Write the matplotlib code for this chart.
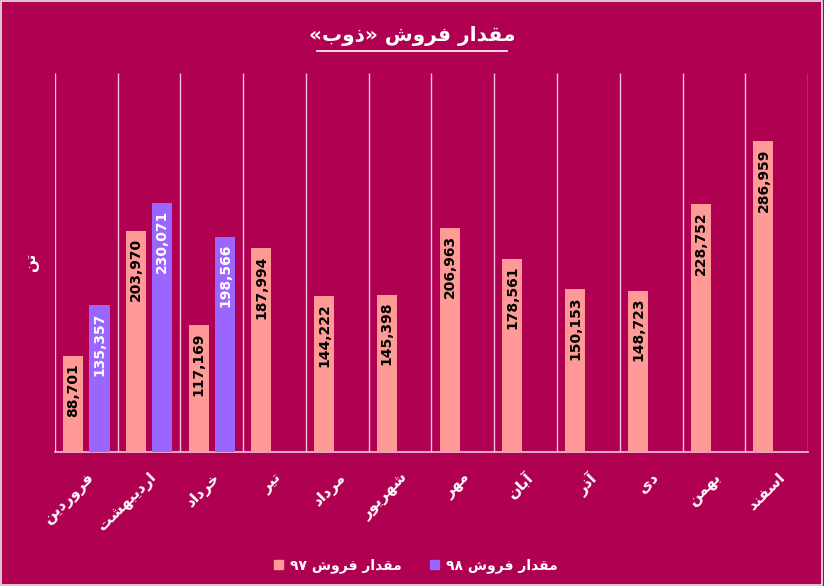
import numpy as np
import matplotlib
matplotlib.use("Agg")
import matplotlib.pyplot as plt
from matplotlib.patches import Patch, Rectangle

# data
months = ["فروردین", "اردیبهشت", "خرداد", "تیر", "مرداد", "شهریور",
          "مهر", "آبان", "آذر", "دی", "بهمن", "اسفند"]
sales_97 = [88701, 203970, 117169, 187994, 144222, 145398,
            206963, 178561, 150153, 148723, 228752, 286959]
sales_98 = [135357, 230071, 198566]
title = "مقدار فروش «ذوب»"
label_97 = "مقدار فروش ۹۷"
label_98 = "مقدار فروش ۹۸"
unit = "تن"

# tiny persian shaper: (isolated, final, initial, medial)
FORMS = {
    "ا": ("\uFE8D", "\uFE8E", None, None),
    "آ": ("\uFE81", "\uFE82", None, None),
    "ب": ("\uFE8F", "\uFE90", "\uFE91", "\uFE92"),
    "ت": ("\uFE95", "\uFE96", "\uFE97", "\uFE98"),
    "خ": ("\uFEA5", "\uFEA6", "\uFEA7", "\uFEA8"),
    "د": ("\uFEA9", "\uFEAA", None, None),
    "ذ": ("\uFEAB", "\uFEAC", None, None),
    "ر": ("\uFEAD", "\uFEAE", None, None),
    "ز": ("\uFEAF", "\uFEB0", None, None),
    "س": ("\uFEB1", "\uFEB2", "\uFEB3", "\uFEB4"),
    "ش": ("\uFEB5", "\uFEB6", "\uFEB7", "\uFEB8"),
    "ف": ("\uFED1", "\uFED2", "\uFED3", "\uFED4"),
    "ق": ("\uFED5", "\uFED6", "\uFED7", "\uFED8"),
    "م": ("\uFEE1", "\uFEE2", "\uFEE3", "\uFEE4"),
    "ن": ("\uFEE5", "\uFEE6", "\uFEE7", "\uFEE8"),
    "ه": ("\uFEE9", "\uFEEA", "\uFEEB", "\uFEEC"),
    "و": ("\uFEED", "\uFEEE", None, None),
    "ی": ("\uFBFC", "\uFBFD", "\uFBFE", "\uFBFF"),
}
MIRROR = {"«": "»", "»": "«"}


def shape_word(w):
    out = []
    for i, c in enumerate(w):
        if c not in FORMS:
            out.append(c)
            continue
        prev = w[i - 1] if i > 0 else None
        nxt = w[i + 1] if i + 1 < len(w) else None
        jp = prev in FORMS and FORMS[prev][2] is not None
        jn = FORMS[c][2] is not None and nxt in FORMS
        f = FORMS[c]
        if jp and jn:
            out.append(f[3])
        elif jp:
            out.append(f[1])
        elif jn:
            out.append(f[2])
        else:
            out.append(f[0])
    return "".join(out)


def rtl(text):
    toks = []
    for t in text.split(" "):
        if any(c in FORMS for c in t):
            s = shape_word(t)[::-1]
            s = "".join(MIRROR.get(c, c) for c in s)
            toks.append(s)
        else:
            toks.append(t)
    return " ".join(toks[::-1])


bg = "#B00052"
pink = "#FF9A96"
purple = "#9B66FF"
grid = "#F4C3DC"

fig = plt.figure(figsize=(8.24, 5.86), dpi=100, facecolor=bg)
ax = fig.add_axes([0.0667, 0.2287, 0.9139, 0.6468], facecolor=bg)
fig.patches.append(Rectangle((0.001, 0.001), 0.997, 0.997, transform=fig.transFigure,
                             fill=False, edgecolor="#E8E8E8", lw=1.2))

x = np.arange(len(months))
w = 0.32
off = 0.21
ax.bar(x - off, sales_97, width=w, color=pink, zorder=3)
ax.bar(x[:len(sales_98)] + off, sales_98, width=w, color=purple, zorder=3)

for xi, v in zip(x, sales_97):
    ax.text(xi - off, v - 6500, f"{v:,}", rotation=90, ha="center", va="top",
            fontsize=10, fontweight="bold", color="black", zorder=4)
for xi, v in zip(x, sales_98):
    ax.text(xi + off, v - 6500, f"{v:,}", rotation=90, ha="center", va="top",
            fontsize=10, fontweight="bold", color="white", zorder=4)

ax.set_xlim(-0.5, 11.5)
ax.set_ylim(0, 350000)
ax.vlines(np.arange(-0.5, 12, 1), 0, 350000, color=grid, lw=1, zorder=1)
for s in ["top", "left", "right"]:
    ax.spines[s].set_visible(False)
ax.spines["bottom"].set_color(grid)
ax.spines["bottom"].set_linewidth(1.2)
ax.set_yticks([])
ax.set_xticks(x)
ax.set_xticklabels([rtl(m) for m in months], rotation=45, ha="right",
                   rotation_mode="anchor", fontsize=11, fontweight="bold",
                   color="white")
ax.tick_params(axis="x", length=0, pad=13)

fig.text(32 / 824, 1 - 262 / 586, rtl(unit), rotation=90, ha="center", va="center",
         fontsize=11, fontweight="bold", color="white")

fig.text(412 / 824, 1 - 36 / 586, rtl(title), ha="center", va="center",
         fontsize=14.5, fontweight="bold", color="white")
fig.add_artist(plt.Line2D([317 / 824, 507 / 824], [1 - 51 / 586, 1 - 51 / 586],
                          color="white", lw=1.2))

handles = [Patch(color=pink, label=rtl(label_97)), Patch(color=purple, label=rtl(label_98))]
fig.legend(handles=handles, loc="center", bbox_to_anchor=(416 / 824, 1 - 566 / 586), ncol=2,
           frameon=False, markerfirst=True, handlelength=0.65, handleheight=0.65,
           handletextpad=0.5, columnspacing=2.0, labelcolor="white",
           prop={"weight": "bold", "size": 10})

fig.savefig("out.png", dpi=100, facecolor=bg)
